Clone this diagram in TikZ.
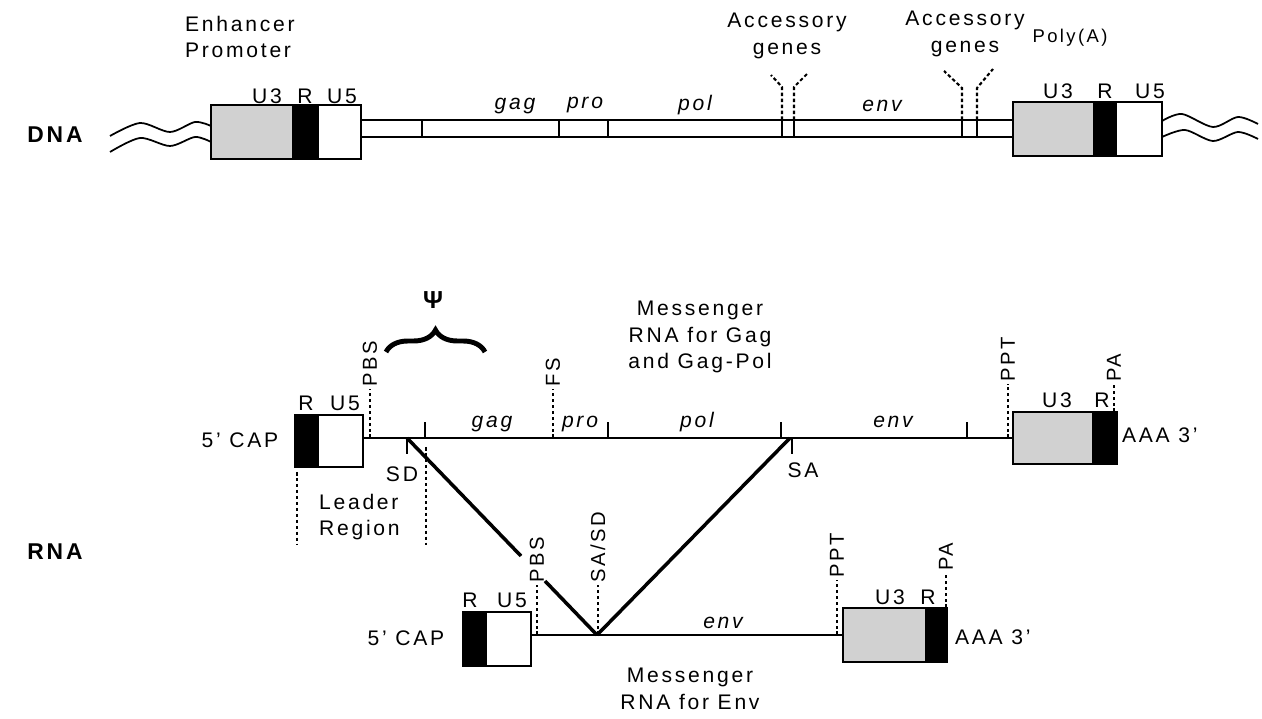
\documentclass[tikz,border=0pt]{standalone}
\usepackage{fontspec}
\setmainfont{Liberation Sans}[LetterSpace=13]
\usetikzlibrary{decorations.pathreplacing}

\tikzset{
  box/.style={draw, line width=1.1pt},
  strand/.style={line width=1pt},
  rnaline/.style={line width=1.4pt},
  splice/.style={line width=2pt},
  dashline/.style={line width=1.2pt, dash pattern=on 2pt off 1.4pt},
  lbl/.style={font=\fontsize{12}{15}\selectfont, align=center, inner sep=1pt},
  gene/.style={font=\fontsize{12}{13}\selectfont\itshape, inner sep=1pt},
  site/.style={font=\fontsize{11.5}{13}\selectfont, rotate=90, anchor=west, inner sep=1pt},
  big/.style={font=\fontsize{13}{16}\selectfont\bfseries, inner sep=1pt},
}
\colorlet{ltrgray}{black!18}

\begin{document}
\begin{tikzpicture}[x=0.02cm,y=-0.02cm]
\useasboundingbox (0,0) rectangle (1262,719);

% Row labels
\node[big] (dna) at (55,135) {DNA};
\node[big] (rna) at (55,552) {RNA};

%% ---------------- DNA (provirus) ----------------

% Host DNA (wavy ends)
\draw[strand] plot[smooth] coordinates {(110,136) (140,123) (170,132) (195,122) (211,126)};
\draw[strand] plot[smooth] coordinates {(110,152) (140,138) (170,146) (195,137) (211,142)};
\draw[strand] plot[smooth] coordinates {(1162,121) (1182,114) (1213,127) (1238,117) (1258,124)};
\draw[strand] plot[smooth] coordinates {(1162,137) (1185,130) (1213,141) (1238,132) (1258,139)};

% Left LTR
\fill[ltrgray] (211,105) rectangle (292,159);
\fill (292,105) rectangle (319,159);
\draw[box] (211,105) rectangle (361,159);
\node[lbl] (u3a) at (267,96) {U3};
\node[lbl] (ra)  at (305,96) {R};
\node[lbl] (u5a) at (342,96) {U5};
\node[lbl, align=left, anchor=west] (enh) at (183,37) {Enhancer\\Promoter};

% Right LTR
\fill[ltrgray] (1013,102) rectangle (1093,156);
\fill (1093,102) rectangle (1117,156);
\draw[box] (1013,102) rectangle (1162,156);
\node[lbl] (u3b) at (1058,91) {U3};
\node[lbl] (rb)  at (1105,91) {R};
\node[lbl] (u5b) at (1150,91) {U5};
\node[lbl, font=\fontsize{10.5}{13}\selectfont] (polyA) at (1070,38) {Poly(A)};

% Coding region (double strand with gene borders)
\draw[strand] (361,120) -- (1013,120);
\draw[strand] (361,137) -- (1013,137);
\foreach \x in {422,559,608,782,794,962,977}
  \draw[strand] (\x,120) -- (\x,137);
\node[gene] (gag) at (515,106) {gag};
\node[gene] (pro) at (585,105) {pro};
\node[gene] (pol) at (695,105) {pol};
\node[gene] (env) at (882,106) {env};

% Accessory genes
\node[lbl] (accA) at (787,36) {Accessory\\genes};
\node[lbl] (accB) at (965,34) {Accessory\\genes};
\draw[dashline] (782,120) -- (782,87) -- (771,75);
\draw[dashline] (794,120) -- (794,87) -- (808,73);
\draw[dashline] (962,120) -- (962,88) -- (944,71);
\draw[dashline] (977,120) -- (977,88) -- (993,69);

%% ---------------- RNA: Gag and Gag-Pol ----------------

% 5' end
\fill (295,415) rectangle (319,467);
\draw[box] (295,415) rectangle (363,467);
\node[lbl] (r1)  at (306,403) {R};
\node[lbl] (u51) at (345,403) {U5};
\node[lbl] (cap1) at (240,440) {5' CAP};

% 3' end
\fill[ltrgray] (1013,412) rectangle (1092,464);
\fill (1092,412) rectangle (1117,464);
\draw[box] (1013,412) rectangle (1117,464);
\node[lbl] (u31) at (1057,400) {U3};
\node[lbl] (r1b) at (1102,400) {R};
\node[lbl, anchor=west] (aaa1) at (1120,435) {AAA 3'};

% strand and gene borders
\draw[rnaline] (363,438) -- (1013,438);
\foreach \x in {425,608,781,967}
  \draw[rnaline] (\x,438) -- (\x,422);
\node[gene] (gag1) at (492,424) {gag};
\node[gene] (pro1) at (580,424) {pro};
\node[gene] (pol1) at (697,422) {pol};
\node[gene] (env1) at (893,422) {env};

% sites
\coordinate (sd) at (407,438);
\coordinate (sa) at (790,438);
\draw[rnaline] (407,438) -- (407,454);
\draw[rnaline] (792,438) -- (792,454);
\node[lbl] (sdl) at (402,474) {SD};
\node[lbl] (sal) at (803,470) {SA};

\node[site] (pbs1) at (370,389) {PBS};
\node[site] (fs)   at (553,389) {FS};
\node[site] (ppt1) at (1008,384) {PPT};
\node[site] (pa1)  at (1114,384) {PA};
\draw[dashline] (370,438) -- (pbs1.west);
\draw[dashline] (553,438) -- (fs.west);
\draw[dashline] (1008,438) -- (ppt1.west);
\draw[dashline] (1114,412) -- (pa1.west);

% packaging signal
\draw[line width=2.8pt, decorate, decoration={brace, amplitude=0.44cm}] (386,352) -- (485,352);
\node[lbl, font=\fontsize{14}{16}\selectfont\bfseries] (psi) at (433,300) {Ψ};

\node[lbl] (msggag) at (700,337) {Messenger\\RNA for Gag\\and Gag-Pol};

% leader region
\draw[dashline] (297,472) -- (297,545);
\draw[dashline] (426,447) -- (426,545);
\node[lbl, align=left, anchor=west] (leader) at (317,517) {Leader\\Region};

%% ---------------- RNA: Env ----------------

% 5' end
\fill (463,612) rectangle (487,666);
\draw[box] (463,612) rectangle (531,666);
\node[lbl] (r2)  at (470,600) {R};
\node[lbl] (u52) at (512,600) {U5};
\node[lbl] (cap2) at (406,638) {5' CAP};

% 3' end
\fill[ltrgray] (843,608) rectangle (925,662);
\fill (925,608) rectangle (947,662);
\draw[box] (843,608) rectangle (947,662);
\node[lbl] (u32) at (890,597) {U3};
\node[lbl] (r2b) at (928,597) {R};
\node[lbl, anchor=west] (aaa2) at (953,637) {AAA 3'};

% strand
\coordinate (sasd) at (597,635);
\draw[rnaline] (531,635) -- (843,635);
\node[gene] (env2) at (723,623) {env};

\node[site] (pbs2) at (537,585) {PBS};
\node[site] (sasdl) at (598,585) {SA/SD};
\node[site] (ppt2) at (837,580) {PPT};
\node[site] (pa2)  at (946,573) {PA};
\draw[dashline] (537,635) -- (pbs2.west);
\draw[dashline] (598,635) -- (sasdl.west);
\draw[dashline] (837,635) -- (ppt2.west);
\draw[dashline] (946,608) -- (pa2.west);

% splicing
\draw[splice] (sd) -- (521,556);
\draw[splice] (545,581) -- (sasd);
\draw[splice] (sa) -- (sasd);

\node[lbl] (msgenv) at (690,689) {Messenger\\RNA for Env};

\end{tikzpicture}
\end{document}
